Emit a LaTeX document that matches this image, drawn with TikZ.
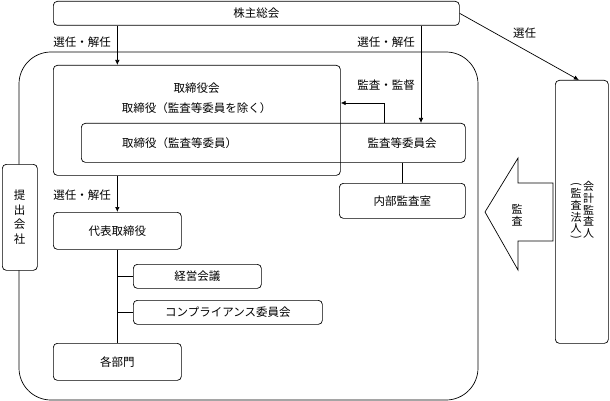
\documentclass[tikz,border=0pt]{standalone}
\usepackage{fontspec}
\newfontfamily\jp{Noto Sans CJK JP}
\usetikzlibrary{arrows.meta}
\begin{document}
\begin{tikzpicture}[x=1pt,y=-1pt,
  every node/.style={font=\jp\fontsize{11.5}{14}\selectfont, inner sep=0pt},
  box/.style={draw, line width=0.7pt, rounded corners=4pt, anchor=north west},
  arr/.style={line width=0.7pt, -{Latex[length=5pt,width=4.5pt]}},
  ln/.style={line width=0.7pt},
  vtext/.style={align=center, font=\jp\fontsize{11}{11.7}\selectfont}]
\useasboundingbox (0,0) rectangle (610,401);
% outer frame
\draw[ln, rounded corners=32pt] (19,52) rectangle (478,400);
\coordinate (xa) at (421,0);
\coordinate (xb) at (384,103);
% boxes
\node[box, minimum width=406pt, minimum height=24pt] (kabu) at (53,1) {};
\node at (kabu.center) {株主総会};
\node[box, fill=white, minimum width=35pt, minimum height=106pt] (teishutsu) at (2,164) {};
\node[vtext, font=\jp\fontsize{11.5}{14.7}\selectfont] (teishutsuT) at (19.5,217) {提\\出\\会\\社};
\node[box, minimum width=287pt, minimum height=110pt] (tori) at (53,65) {};
\node (toriA) at (196.5,88) {取締役会};
\node (toriB) at (196.5,108) {取締役（監査等委員を除く）};
\node[box, minimum width=384pt, minimum height=39pt] (inner) at (81,123) {};
\node (kansaT) at (179.5,143) {取締役（監査等委員）};
\node (iinkai) at (402,143) {監査等委員会};
\node[box, minimum width=126pt, minimum height=35pt] (naibu) at (339,183) {};
\node at (naibu.center) {内部監査室};
\node[box, minimum width=128pt, minimum height=37pt] (daihyo) at (53,212) {};
\node at (daihyo.center) {代表取締役};
\node[box, minimum width=128pt, minimum height=24pt] (keiei) at (133,264) {};
\node at (keiei.center) {経営会議};
\node[box, minimum width=189pt, minimum height=24pt] (comp) at (133,300) {};
\node at (comp.center) {コンプライアンス委員会};
\node[box, minimum width=128pt, minimum height=37pt] (kakubu) at (53,343) {};
\node at (kakubu.center) {各部門};
\node[box, minimum width=53pt, minimum height=263pt] (kaikei) at (555,80) {};
\node[vtext] (kaikeiA) at (588.5,210) {会\\計\\監\\査\\人};
\node[vtext] (kaikeiB) at (576,211) {監\\査\\法\\人};
\node[rotate=-90, font=\jp\fontsize{11}{11.7}\selectfont] (parL) at (576,184) {(};
\node[rotate=-90, font=\jp\fontsize{11}{11.7}\selectfont] (parR) at (576,237.5) {)};
% labels
\node (l1) at (82,42) {選任・解任};
\node (l2) at (386,42) {選任・解任};
\node (l3) at (82,195) {選任・解任};
\node (l4) at (524.5,33) {選任};
\node (l5) at (386,85) {監査・監督};
% connectors
\draw[arr] (kabu.south -| daihyo.north) -- (tori.north -| daihyo.north);
\draw[arr] (kabu.south -| xa) -- (inner.north -| xa);
\draw[arr] (kabu.east) -- ([xshift=-3pt]kaikei.north);
\draw[arr] (inner.north -| xb) |- (tori.east |- xb);
\draw[ln] (naibu.north |- inner.south) -- (naibu.north);
\draw[arr] (daihyo.north |- tori.south) -- (daihyo.north);
\draw[ln] (daihyo.south) -- (kakubu.north);
\draw[ln] (daihyo.south |- keiei.west) -- (keiei.west);
\draw[ln] (daihyo.south |- comp.west) -- (comp.west);
% big arrow
\draw[ln, line join=miter] (553,183) -- (518,183) -- (518,158) -- (485,212) -- (518,270) -- (518,241) -- (553,241) -- cycle;
\node[vtext, font=\jp\fontsize{11}{12.5}\selectfont] (kansa) at (517,215) {監\\査};
\end{tikzpicture}
\end{document}
